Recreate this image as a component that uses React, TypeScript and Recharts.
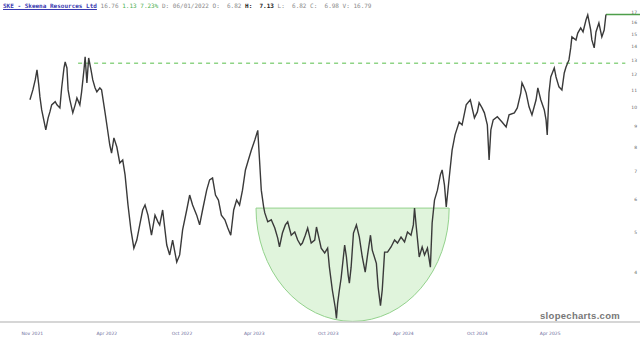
import React from 'react';
import { ComposedChart, Line, XAxis, YAxis, ReferenceArea, ReferenceLine } from 'recharts';

// trading-session index of each sampled bar
const sessions = [
  0, 5, 9, 12, 15, 17, 20, 26, 27, 31, 34, 37, 43, 46, 51, 54, 58, 60, 63, 65, 68, 73, 77, 80, 85, 88, 92, 94, 97, 100,
  104, 107, 111, 114, 119, 122, 128, 133, 136, 139, 143, 148, 153, 158, 162, 167, 172, 177, 182, 187, 192, 196, 201, 207,
  213, 218, 221, 226, 233, 238, 243, 250, 255, 260, 267, 272, 277, 284, 289, 294, 301, 306, 311, 316, 321, 326, 332, 337,
  342, 347, 352, 357, 362, 367, 372, 377, 383, 388, 391, 394, 398,
  400, 405, 411, 417, 422, 425, 430, 435, 439, 445, 451, 456, 461, 464, 469, 473, 479, 485, 488, 493, 496, 502, 507, 510,
  515, 520, 522, 524, 527, 530, 536, 539, 542, 544, 547, 551, 556, 561, 566, 571, 575, 580, 583, 590, 593, 597, 600, 604,
  609, 615, 621, 626, 632, 638, 643, 649, 653, 655, 658, 663, 668, 672, 677, 682, 685, 689, 694, 699, 702, 706, 709,
  714, 719, 724, 731, 736, 743, 750, 757, 762, 765, 770, 774, 779, 782, 785, 789, 796, 804, 811, 816, 825, 830, 836, 838,
  842, 845, 850, 855, 862, 865, 870, 876, 879, 881, 884, 887, 893, 896, 901, 906, 910, 913, 918, 921, 923, 930, 933, 938,
  942, 947, 950, 955, 957, 961, 964, 969, 974, 978, 981,
];

const closes = [
  10.43, 11.02, 11.65, 12.32, 11.33, 10.6, 9.86, 8.97, 8.82, 9.43, 9.75, 10.14, 10.32, 10.14, 9.97, 11.14, 12.45, 12.87, 12.45, 11.02, 10.43, 9.7, 10.14, 10.54, 10.14, 10.9, 12.32, 13.24, 11.46, 13.16,
  12.32, 11.65, 11.14, 10.9, 11.14, 11.02, 9.7, 8.67, 8.11, 7.75, 8.44, 8.02, 7.34, 7.46, 6.87, 5.81, 5.06, 4.57, 4.78, 5.2, 5.65, 5.81, 5.49, 4.91,
  5.49, 5.29, 5.2, 5.65, 4.65, 4.4, 4.78, 4.23, 4.4, 5.06, 5.65, 6.14, 5.81, 5.49, 5.2, 5.65, 6.31, 6.68, 6.75, 6.14, 5.97, 5.49, 5.35, 5.11,
  4.91, 5.65, 5.97, 5.81, 6.31, 7.06, 7.46, 7.88, 8.34, 8.8, 7.46, 6.31, 5.75,
  5.56, 5.29, 5.35, 5.11, 4.83, 4.6, 4.97, 5.2, 5.29, 4.91, 5.0, 4.78, 4.65, 4.7, 4.91, 5.11, 4.7, 4.78, 5.14, 4.78, 4.57, 4.45, 4.57, 4.11,
  3.62, 3.28, 3.09, 3.36, 3.62, 3.87, 4.65, 4.35, 3.93, 3.76, 4.11, 4.97, 5.2, 4.86, 4.35, 4.0, 4.4, 4.91, 4.52, 4.2, 3.68, 3.32, 3.62, 4.47,
  4.47, 4.6, 4.78, 4.7, 4.86, 4.73, 5.0, 4.91, 5.2, 5.71, 5.14, 4.35, 4.6, 4.4, 4.57, 4.11, 5.26, 5.97, 6.31, 6.87, 7.06, 6.49, 5.75,
  6.75, 7.88, 8.58, 9.22, 9.07, 10.14, 10.43, 9.43, 9.75, 10.26, 9.97, 9.7, 9.07, 7.46, 8.82, 9.33, 9.49, 9.22, 8.97, 9.59, 9.7, 9.97, 10.84, 11.46,
  11.14, 10.84, 10.03, 9.59, 10.43, 11.14, 10.43, 9.86, 9.33, 8.58, 10.84, 11.84, 12.45, 11.84, 11.21, 11.02, 12.11, 12.52, 13.02, 13.92, 14.8, 14.55, 15.12, 15.55,
  15.21, 16.26, 16.72, 15.38, 14.55, 13.92, 15.21, 15.99, 14.8, 15.38, 16.76,
];

const tickDays = [4, 131, 259, 382, 508, 636, 762, 886];
const tickLabels = ['Nov 2021', 'Apr 2022', 'Oct 2022', 'Apr 2023', 'Oct 2023', 'Apr 2024', 'Oct 2024', 'Apr 2025'];
const priceTicks = [4, 5, 6, 7, 8, 9, 10, 11, 12, 13, 14, 15, 16, 17];

const resistanceLevel = 12.78;
const resistanceFrom = 82;
const resistanceTo = 1014;
const lastClose = 16.76;
const lastSession = 981;
const cupStart = 385;
const cupEnd = 714;
const cupTop = 5.71;
const cupBottom = 3.04;

const data = sessions.map((d, i) => ({ day: d, close: closes[i] }));

function CupShape(props: any) {
  const { x, y, width, height } = props;
  if (x == null || width == null) return null;
  const d = `M${x},${y} A${width / 2},${height} 0 0 0 ${x + width},${y} Z`;
  return <path d={d} fill="#e0f4dc" stroke="#93d28c" strokeWidth={1} />;
}

export default function App() {
  return (
    <div style={{ position: 'absolute', left: 0, top: 0, width: 640, height: 338, background: '#fff' }}>
      <ComposedChart width={640} height={338} data={data} margin={{ top: 8, right: 0, left: 0, bottom: 0 }}>
        <XAxis
          dataKey="day"
          type="number"
          domain={[-51, 1039]}
          ticks={tickDays}
          interval={0}
          allowDataOverflow
          tickFormatter={(v: number) => tickLabels[tickDays.indexOf(v)] ?? ''}
          height={16}
          axisLine={{ stroke: '#c8c8c8', strokeWidth: 1.5 }}
          tickLine={false}
          tickMargin={4}
          tick={{ fontSize: 4.5, fill: '#6a6a9a', fontFamily: 'DejaVu Sans' }}
        />
        <YAxis
          orientation="right"
          mirror
          type="number"
          scale="log"
          domain={[3.03, 17.38]}
          allowDataOverflow
          ticks={priceTicks}
          interval={0}
          axisLine={false}
          tickLine={false}
          tickSize={0}
          tickMargin={3}
          width={20}
          tick={{ fontSize: 4.5, fill: '#666', fontFamily: 'DejaVu Sans' }}
        />
        <ReferenceArea x1={cupStart} x2={cupEnd} y1={cupBottom} y2={cupTop} shape={<CupShape />} ifOverflow="visible" />
        <ReferenceLine
          segment={[{ x: resistanceFrom, y: resistanceLevel }, { x: resistanceTo, y: resistanceLevel }]}
          stroke="#8fd486"
          strokeWidth={1.5}
          strokeDasharray="4 4"
        />
        <ReferenceLine
          segment={[{ x: lastSession, y: lastClose }, { x: 1039, y: lastClose }]}
          stroke="#4e9e4a"
          strokeWidth={1.5}
        />
        <Line dataKey="close" type="linear" stroke="#3a3a3a" strokeWidth={1.4} dot={false} isAnimationActive={false} />
      </ComposedChart>
      <div
        style={{
          position: 'absolute', left: 3, top: 2, fontFamily: 'DejaVu Sans Mono', fontSize: 6, lineHeight: '7px',
          whiteSpace: 'pre', color: '#888',
        }}
      >
        <span style={{ color: '#3a3ab0', fontWeight: 'bold', textDecoration: 'underline' }}>SKE - Skeena Resources Ltd</span>
        <span> 16.76 </span>
        <span style={{ color: '#4caf50' }}>1.13 7.23%</span>
        <span> D: 06/01/2022 O:  6.82 </span>
        <span style={{ color: '#222', fontWeight: 'bold' }}>H:  7.13</span>
        <span> L:  6.82 C:  6.98 V: 16.79</span>
      </div>
      <div
        style={{
          position: 'absolute', left: 540, top: 310, fontFamily: 'Liberation Sans', fontWeight: 'bold', fontSize: 9.5,
          color: '#777', letterSpacing: 0.3,
        }}
      >
        slopecharts.com
      </div>
    </div>
  );
}
